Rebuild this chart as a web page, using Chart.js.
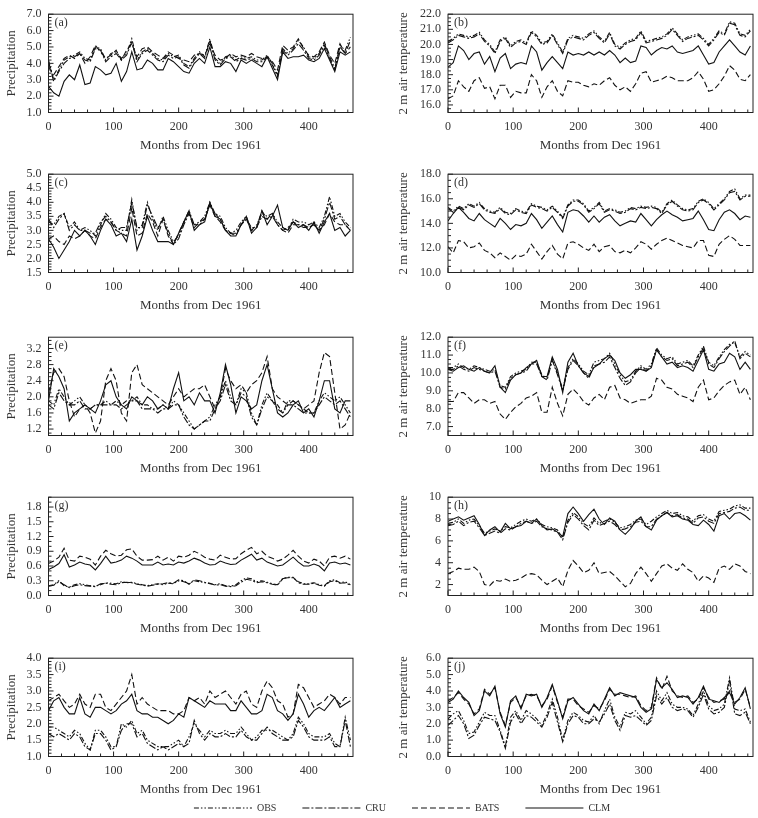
<!DOCTYPE html>
<html>
<head>
<meta charset="utf-8">
<script src="https://cdn.jsdelivr.net/npm/chart.js@4.4.0/dist/chart.umd.min.js"></script>
<style>
  body { margin: 0; background: #fff; }
  #wrap { position: relative; width: 758px; height: 818px; }
  #wrap canvas { position: absolute; }
</style>
</head>
<body>
<div id="wrap"></div>
<script>
// months since Dec 1961, sampled every 8 months
const months = [0,8,16,24,32,40,48,56,64,72,
  80,88,96,104,112,120,128,136,144,152,
  160,168,176,184,192,200,208,216,224,232,
  240,248,256,264,272,280,288,296,304,312,
  320,328,336,344,352,360,368,376,384,392,
  400,408,416,424,432,440,448,456,464];
const xTicks = [0, 100, 200, 300, 400];
const names = ['OBS', 'CRU', 'BATS', 'CLM'];

// (a) precipitation
const obsA = [4.2,3.0,3.6,4.2,4.4,4.5,4.7,4.3,4.2,5.0, 4.9,4.2,4.6,4.7,4.3,4.6,5.5,4.2,4.7,4.9, 4.6,4.3,4.2,4.6,4.4,4.5,4.0,3.8,4.3,4.7, 4.4,5.5,4.3,4.0,4.4,4.5,4.2,4.4,4.3,4.4, 4.2,4.2,4.5,4.0,3.3,4.9,4.6,4.9,5.4,5.0, 4.4,4.3,4.6,5.2,4.4,3.7,5.1,4.8,5.6];
const cruA = [4.1,2.9,3.5,4.0,4.3,4.4,4.6,4.2,4.1,4.9, 4.8,4.1,4.4,4.6,4.2,4.5,5.3,4.1,4.6,4.8, 4.5,4.2,4.1,4.5,4.3,4.4,3.9,3.7,4.2,4.6, 4.3,5.4,4.2,3.9,4.3,4.4,4.1,4.3,4.2,4.3, 4.1,4.1,4.4,3.9,3.2,4.8,4.5,4.8,5.2,4.8, 4.3,4.2,4.5,5.1,4.3,3.6,5.0,4.6,5.4];
const batsA = [3.8,3.3,3.8,4.3,4.5,4.3,4.6,4.0,4.4,5.1, 4.7,4.3,4.5,4.8,4.2,4.8,5.2,4.4,4.9,5.0, 4.7,4.5,4.3,4.7,4.5,4.3,4.2,4.1,4.5,4.6, 4.5,5.2,4.5,4.2,4.3,4.6,4.4,4.5,4.4,4.6, 4.4,4.3,4.4,4.1,3.6,5.1,4.8,5.0,5.5,4.9, 4.5,4.4,4.7,5.3,4.5,4.0,5.2,4.6,5.0];
const clmA = [2.6,2.2,2.0,2.9,3.3,3.0,3.9,2.7,2.8,3.8, 3.6,3.3,3.4,4.0,2.9,3.5,4.7,3.6,3.7,4.2, 4.0,3.6,3.6,4.3,4.1,3.8,3.5,3.4,4.0,4.3, 4.0,5.0,3.8,3.8,4.1,4.0,3.5,4.2,4.0,4.2, 4.0,3.8,4.4,3.7,3.0,4.7,4.3,4.4,4.4,4.5, 4.2,4.1,4.3,4.9,4.2,3.5,4.7,4.5,4.7];

// (b) 2 m air temperature
const obsB = [20.2,20.4,20.7,20.6,20.5,20.6,20.8,20.3,20.0,19.5, 20.3,20.5,19.9,20.2,20.3,20.1,20.9,20.6,20.1,20.2, 20.7,20.1,19.5,20.4,20.6,20.5,20.4,20.7,20.9,20.5, 20.2,20.8,20.0,19.8,20.1,20.3,20.4,20.9,20.2,20.3, 20.4,20.5,20.7,21.1,20.7,20.3,20.5,20.6,20.7,20.4, 20.0,20.4,20.9,20.7,21.5,21.4,20.7,20.6,21.0];
const cruB = [20.1,20.3,20.6,20.5,20.4,20.5,20.7,20.2,19.9,19.4, 20.2,20.4,19.8,20.1,20.2,20.0,20.8,20.5,20.0,20.1, 20.6,20.0,19.4,20.3,20.5,20.4,20.3,20.6,20.8,20.4, 20.1,20.7,19.9,19.7,20.0,20.2,20.3,20.8,20.1,20.2, 20.3,20.4,20.6,21.0,20.6,20.2,20.4,20.5,20.6,20.3, 19.9,20.3,20.8,20.6,21.4,21.3,20.6,20.5,20.9];
const batsB = [16.4,16.6,17.6,17.2,16.9,17.6,17.8,17.1,17.2,16.4, 17.3,17.3,16.5,16.9,16.8,16.8,18.0,17.6,16.5,17.2, 17.6,16.9,16.6,17.6,17.5,17.5,17.3,17.2,17.4,17.3, 17.6,17.8,17.3,17.0,17.2,16.9,17.4,18.1,18.2,17.5, 17.6,17.7,17.9,17.8,17.6,17.6,17.6,17.8,18.2,17.7, 16.9,17.0,17.4,17.9,18.6,18.3,17.7,17.6,18.0];
const clmB = [18.5,18.8,19.9,19.6,19.0,19.4,19.5,18.7,19.2,18.2, 19.1,19.4,18.4,18.7,18.8,18.7,19.9,19.5,18.3,18.8, 19.2,18.8,18.4,19.5,19.3,19.4,19.3,19.5,19.3,19.5, 19.3,19.6,19.3,18.8,19.1,18.8,18.9,19.9,19.8,19.3, 19.6,19.8,19.7,19.9,19.5,19.4,19.5,19.6,19.9,19.3, 18.7,18.8,19.5,19.9,20.3,19.9,19.5,19.3,19.9];

// (c) precipitation
const obsC = [3.3,3.2,3.5,3.6,3.1,3.3,3.0,3.1,3.0,2.8, 3.2,3.6,3.4,3.1,3.0,3.0,4.1,3.0,3.2,4.0, 3.4,3.0,3.5,3.0,2.6,2.8,3.3,3.7,3.2,3.3, 3.5,4.0,3.6,3.5,3.1,2.9,3.0,3.3,3.5,3.0, 3.2,3.6,3.5,3.6,3.3,3.1,3.0,3.4,3.3,3.3, 3.2,3.3,3.1,3.5,4.2,3.5,3.6,3.3,3.1];
const cruC = [3.4,3.1,3.4,3.6,3.0,3.2,3.0,3.0,2.9,2.9, 3.3,3.5,3.3,3.0,3.1,3.1,4.0,3.1,3.1,3.9, 3.5,3.1,3.4,2.9,2.5,2.7,3.2,3.6,3.2,3.2, 3.4,3.9,3.6,3.4,3.0,2.9,2.9,3.2,3.4,3.1, 3.1,3.5,3.4,3.5,3.2,3.0,3.1,3.3,3.2,3.2, 3.1,3.2,3.0,3.4,4.0,3.4,3.5,3.2,3.0];
const batsC = [2.7,2.8,2.6,2.5,2.8,2.7,2.8,3.0,2.8,2.7, 3.1,3.4,3.3,3.0,2.9,2.8,3.8,2.8,2.9,3.6, 3.3,2.8,3.4,2.8,2.5,2.9,3.3,3.6,3.1,3.3, 3.4,3.9,3.5,3.3,3.0,2.9,2.8,3.2,3.4,3.0, 3.1,3.7,3.4,3.6,3.2,3.0,2.9,3.2,3.2,3.1, 3.1,3.2,3.0,3.2,3.6,3.3,3.2,3.2,3.0];
const clmC = [2.7,2.4,2.0,2.3,2.6,3.0,2.8,3.0,2.8,2.5, 3.0,3.4,3.2,2.8,2.9,2.6,3.4,2.3,2.8,3.5, 3.0,2.6,2.6,2.6,2.5,2.9,3.3,3.7,3.0,3.2, 3.3,4.0,3.5,3.4,3.0,2.8,2.8,3.2,3.5,2.9, 3.1,3.7,3.2,3.5,3.9,3.1,3.0,3.3,3.1,3.2, 3.0,3.3,2.9,3.3,3.6,3.0,3.1,2.8,3.0];

// (d) 2 m air temperature
const obsD = [15.3,15.0,15.4,15.2,15.6,15.4,15.7,15.2,15.0,14.9, 15.3,14.9,14.8,15.2,15.0,14.9,15.6,15.4,15.3,15.1, 15.4,15.0,14.5,15.5,15.9,15.9,15.6,15.0,15.3,15.7, 15.0,15.2,15.1,14.9,15.0,15.3,15.2,15.4,15.3,15.4, 15.3,14.9,15.6,15.9,15.5,15.2,15.1,15.2,15.8,16.0, 15.7,15.2,15.6,16.0,16.6,16.8,16.0,16.3,16.3];
const cruD = [15.2,14.9,15.3,15.1,15.5,15.3,15.6,15.1,14.9,14.8, 15.2,14.8,14.7,15.1,14.9,14.8,15.5,15.3,15.2,15.0, 15.3,14.9,14.4,15.4,15.8,15.8,15.5,14.9,15.2,15.6, 14.9,15.1,15.0,14.8,14.9,15.2,15.1,15.3,15.2,15.3, 15.2,14.8,15.5,15.8,15.4,15.1,15.0,15.1,15.7,15.9, 15.6,15.1,15.5,15.9,16.5,16.6,15.9,16.2,16.2];
const batsD = [12.1,11.6,12.6,12.5,12.0,12.1,12.4,11.8,11.6,11.2, 11.6,11.3,11.0,11.4,11.3,11.5,12.3,11.7,11.1,11.7, 12.2,11.5,11.1,12.4,12.5,12.3,12.0,11.8,12.3,11.7, 12.1,12.2,11.7,11.6,11.8,11.6,12.0,12.5,12.3,11.9, 12.3,12.6,12.8,12.6,12.4,12.2,12.1,12.0,12.6,12.6, 11.4,11.3,12.3,12.7,13.0,12.7,12.2,12.2,12.2];
const clmD = [14.2,14.8,15.3,14.9,14.4,14.2,14.8,14.3,14.0,13.7, 14.4,14.0,13.5,13.9,13.8,14.0,14.8,14.3,13.6,14.1, 14.6,13.9,13.3,14.9,15.1,15.0,14.6,14.1,14.6,14.1, 14.5,14.7,14.2,13.8,14.0,14.2,14.1,14.8,14.3,13.8, 14.3,14.7,15.0,14.7,14.5,14.2,14.3,14.4,15.0,14.3, 13.5,13.4,14.3,14.9,15.1,14.8,14.3,14.6,14.5];

// (e) precipitation
const obsE = [1.9,1.8,2.2,2.0,1.8,1.9,2.0,1.8,1.7,1.8, 1.8,1.9,1.8,1.9,1.8,1.9,1.9,2.0,1.8,1.8, 1.7,1.7,1.8,1.7,1.9,1.8,1.6,1.4,1.2,1.3, 1.4,1.5,1.8,2.0,2.4,2.0,1.8,2.2,2.1,1.6, 1.3,1.8,2.1,1.9,1.8,1.6,1.9,1.9,1.8,1.7, 1.6,1.6,1.9,2.1,2.0,1.9,2.0,1.8,1.6];
const cruE = [1.8,1.7,2.1,1.9,1.8,1.8,1.9,1.7,1.7,1.8, 1.8,1.8,1.8,1.8,1.7,1.8,1.9,1.9,1.7,1.7, 1.7,1.6,1.7,1.7,1.8,1.8,1.5,1.3,1.2,1.3, 1.4,1.4,1.7,1.9,2.3,1.9,1.8,2.1,2.0,1.5, 1.3,1.7,2.0,1.9,1.7,1.6,1.8,1.8,1.7,1.6, 1.6,1.6,1.8,2.0,1.9,1.8,1.9,1.7,1.5];
const batsE = [2.1,2.6,2.7,2.5,1.9,1.5,1.7,1.8,1.6,1.1, 1.4,2.4,2.7,2.4,1.6,1.4,2.6,2.8,2.3,2.2, 2.1,2.0,1.9,1.8,2.0,2.2,2.0,2.1,2.2,2.2, 2.3,2.0,1.7,2.0,2.7,2.4,2.2,2.3,2.1,2.3, 2.4,2.6,3.0,2.2,2.0,1.9,1.8,1.9,1.8,1.7, 1.8,1.9,2.6,3.1,3.0,2.1,1.2,1.3,1.6];
const clmE = [1.9,2.7,2.5,2.2,1.4,1.6,1.7,1.8,1.7,1.6, 1.9,2.3,2.4,2.0,1.8,1.7,2.0,1.9,1.8,2.0, 1.9,1.7,1.8,1.7,2.2,2.6,1.9,2.0,1.8,2.1, 1.9,1.9,1.6,2.1,2.8,2.3,1.6,2.0,1.9,1.7, 1.8,2.4,2.8,2.2,1.6,1.5,1.6,1.8,1.9,1.6, 1.7,1.5,1.9,2.4,2.4,1.7,1.6,1.9,1.9];

// (f) 2 m air temperature
const obsF = [10.3,10.3,10.5,10.3,10.2,10.4,10.3,10.2,10.1,10.2, 9.3,9.2,9.8,10.0,10.1,10.2,10.6,10.6,9.9,9.7, 10.8,10.0,9.1,10.3,10.8,10.5,10.1,9.9,10.6,10.7, 10.8,11.1,10.5,9.9,9.5,9.6,10.1,10.4,10.2,10.5, 11.4,11.0,10.8,10.9,10.5,10.6,10.7,10.4,11.0,11.5, 10.6,10.4,10.9,11.3,11.6,11.7,10.9,11.2,11.0];
const cruF = [10.2,10.2,10.4,10.2,10.1,10.3,10.2,10.1,10.0,10.1, 9.2,9.1,9.7,9.9,10.0,10.1,10.5,10.5,9.8,9.6, 10.7,9.9,9.0,10.2,10.7,10.4,10.0,9.7,10.4,10.5, 10.6,10.9,10.3,9.7,9.3,9.5,10.0,10.3,10.1,10.4, 11.3,10.9,10.7,10.8,10.4,10.5,10.6,10.3,10.9,11.4, 10.5,10.3,10.8,11.2,11.5,11.8,10.8,11.1,10.9];
const batsF = [8.4,8.4,8.9,8.9,8.6,8.3,8.5,8.5,8.3,8.4, 7.7,7.4,7.8,8.1,8.3,8.6,8.7,8.9,7.8,7.8, 9.2,8.3,7.6,8.8,9.1,8.8,8.4,8.2,8.6,8.8, 8.5,9.2,9.3,8.6,8.5,8.3,8.4,8.5,8.5,8.7, 9.7,9.6,9.2,9.1,8.8,8.7,8.6,8.4,9.2,9.6, 8.5,8.6,9.0,9.3,9.5,9.6,8.8,9.2,8.5];
const clmF = [10.2,10.1,10.3,10.4,10.2,10.1,10.3,10.1,10.0,10.4, 9.2,8.9,9.6,9.9,10.0,10.3,10.5,10.7,9.8,9.8, 10.9,10.2,8.9,10.6,11.1,10.4,10.0,9.8,10.3,10.5, 10.8,11.0,10.7,10.0,9.7,9.9,10.2,10.2,10.1,10.3, 11.3,10.9,10.5,10.6,10.3,10.4,10.3,10.1,10.7,11.3, 10.2,10.1,10.5,10.6,11.1,10.9,10.2,10.6,10.2];

// (g) precipitation
const obsG = [0.20,0.22,0.30,0.20,0.17,0.22,0.24,0.22,0.20,0.19, 0.22,0.26,0.25,0.24,0.28,0.26,0.27,0.24,0.22,0.20, 0.22,0.24,0.22,0.25,0.24,0.30,0.28,0.24,0.30,0.28, 0.26,0.24,0.22,0.24,0.20,0.19,0.22,0.30,0.36,0.34, 0.28,0.30,0.27,0.24,0.22,0.35,0.36,0.36,0.28,0.24, 0.24,0.26,0.22,0.20,0.30,0.32,0.26,0.28,0.22];
const cruG = [0.19,0.21,0.28,0.22,0.16,0.20,0.22,0.20,0.19,0.18, 0.24,0.25,0.23,0.22,0.26,0.27,0.26,0.23,0.21,0.19, 0.21,0.23,0.24,0.26,0.25,0.32,0.30,0.23,0.32,0.30, 0.27,0.25,0.21,0.22,0.19,0.18,0.20,0.27,0.33,0.31, 0.26,0.28,0.26,0.23,0.21,0.34,0.37,0.37,0.26,0.23, 0.23,0.25,0.21,0.19,0.28,0.30,0.25,0.26,0.21];
const batsG = [0.65,0.70,0.78,0.96,0.72,0.70,0.80,0.78,0.74,0.62, 0.80,0.92,0.85,0.80,0.82,0.93,0.95,0.80,0.72,0.72, 0.73,0.80,0.72,0.78,0.70,0.80,0.78,0.82,0.90,0.85, 0.78,0.74,0.72,0.82,0.78,0.74,0.75,0.85,0.92,0.98, 0.85,0.90,0.80,0.76,0.70,0.74,0.82,0.92,0.80,0.70, 0.66,0.74,0.70,0.60,0.78,0.80,0.76,0.80,0.74];
const clmG = [0.53,0.58,0.65,0.83,0.58,0.62,0.68,0.64,0.62,0.52, 0.65,0.80,0.66,0.68,0.72,0.80,0.76,0.70,0.62,0.62, 0.62,0.68,0.62,0.64,0.62,0.68,0.66,0.70,0.76,0.72, 0.66,0.62,0.63,0.70,0.66,0.63,0.64,0.72,0.78,0.84, 0.72,0.76,0.68,0.64,0.60,0.62,0.70,0.78,0.68,0.60, 0.60,0.64,0.60,0.50,0.66,0.68,0.64,0.66,0.62];

// (h) 2 m air temperature
const obsH = [7.6,7.7,8.0,7.6,7.9,8.0,7.4,6.7,6.9,7.1, 6.9,7.3,7.2,7.5,7.8,8.0,7.8,8.0,7.5,7.3, 7.2,7.0,6.3,7.9,8.6,8.2,7.6,7.3,8.1,7.6, 7.8,8.0,7.7,7.2,7.3,7.5,7.9,8.0,7.5,7.8, 8.2,8.5,8.8,8.5,8.6,8.3,8.2,7.8,8.3,8.4, 8.0,7.8,8.7,8.8,8.9,9.2,9.3,9.0,9.0];
const cruH = [7.4,7.5,7.8,7.4,7.7,7.8,7.2,6.5,6.7,6.9, 6.7,7.1,7.0,7.3,7.6,7.8,7.6,7.8,7.3,7.1, 7.0,6.8,6.1,7.7,8.4,8.0,7.4,7.0,7.9,7.4, 7.6,7.8,7.5,7.0,7.1,7.3,7.7,7.8,7.3,7.3, 8.0,8.3,8.6,8.3,8.4,8.1,8.0,7.6,8.1,8.2, 7.8,7.6,8.5,8.6,8.7,9.0,9.1,8.8,8.8];
const batsH = [3.0,3.2,3.5,3.4,3.4,3.6,3.2,2.0,1.9,2.4, 2.3,2.5,2.3,2.4,2.6,2.9,3.0,2.9,2.4,2.0, 2.3,2.6,1.8,3.3,4.2,3.7,3.1,3.3,4.0,3.0, 3.1,3.2,2.8,2.3,1.8,2.1,3.0,3.6,3.0,2.3, 3.0,3.7,3.9,3.5,3.3,3.9,3.4,3.1,2.3,2.8, 2.6,2.2,3.5,3.7,3.4,3.9,3.7,3.2,3.0];
const clmH = [7.8,8.0,8.2,7.9,8.1,8.3,7.5,6.5,7.0,7.3, 6.8,7.6,7.1,7.3,7.4,7.8,7.6,8.0,7.4,7.0, 7.1,6.8,6.4,8.5,9.1,8.5,7.8,8.4,8.9,8.0, 7.5,8.1,7.8,7.0,6.6,7.1,7.8,8.2,7.3,7.0, 7.9,8.3,8.6,8.2,8.3,8.0,7.9,7.5,7.4,7.9, 7.5,6.9,8.3,8.5,8.0,8.5,8.6,8.3,7.9];

// (i) precipitation
const obsI = [1.9,1.9,1.8,1.7,1.6,1.8,1.7,1.4,1.2,1.8, 1.8,1.6,1.3,1.3,2.0,1.9,2.1,1.7,1.8,1.5, 1.4,1.3,1.3,1.3,1.4,1.5,1.3,1.6,2.0,1.8, 1.6,1.8,1.7,1.7,1.8,1.7,1.7,1.9,1.7,1.5, 1.6,1.8,1.8,1.8,1.7,1.6,1.5,1.7,2.2,2.0, 1.7,1.6,1.6,1.6,1.7,1.4,1.3,2.2,1.5];
const cruI = [1.7,1.6,1.7,1.6,1.5,1.7,1.6,1.3,1.2,1.7, 1.7,1.5,1.2,1.3,1.8,2.0,2.0,1.6,1.7,1.4, 1.3,1.2,1.3,1.2,1.3,1.4,1.3,1.4,2.1,1.7, 1.5,1.7,1.6,1.6,1.7,1.6,1.6,1.8,1.6,1.5, 1.5,1.7,1.9,1.7,1.6,1.5,1.5,1.6,2.1,1.9, 1.6,1.5,1.5,1.5,1.6,1.3,1.3,2.1,1.3];
const batsI = [2.7,2.8,2.9,2.7,2.5,2.6,2.9,2.6,2.5,2.9, 2.9,2.5,2.4,2.6,2.8,3.0,3.5,2.6,2.8,2.6, 2.5,2.4,2.4,2.4,2.3,2.3,2.4,2.8,2.7,2.8, 2.6,3.0,2.8,2.9,3.0,2.8,2.6,2.9,3.0,2.6, 2.5,3.0,3.3,3.1,2.7,2.6,2.2,2.3,3.2,3.1, 2.8,2.5,2.6,2.7,2.9,2.8,2.6,2.8,2.8];
const clmI = [2.4,2.7,2.8,2.5,2.3,2.3,2.8,2.3,2.2,2.5, 2.5,2.4,2.3,2.4,2.6,2.7,2.9,2.4,2.3,2.3, 2.2,2.2,2.1,2.0,2.1,2.3,2.2,2.8,2.7,2.6, 2.5,2.7,2.6,2.6,2.6,2.4,2.4,2.7,2.5,2.3, 2.3,2.4,2.9,2.8,2.4,2.3,2.1,2.3,2.9,2.6, 2.2,2.4,2.5,2.4,2.6,2.8,2.5,2.6,2.7];

// (j) 2 m air temperature
const obsJ = [2.3,2.6,2.8,2.2,1.4,1.5,2.1,2.7,2.5,2.5, 1.6,0.6,2.4,2.8,2.2,2.8,2.6,2.3,1.9,2.6, 3.5,2.4,1.0,2.2,2.7,2.5,2.2,2.1,2.5,2.0, 2.8,3.5,2.4,1.8,2.7,2.6,2.8,2.4,2.0,2.4, 4.0,3.4,3.9,3.2,3.0,3.0,2.9,2.5,3.2,4.0, 3.1,2.8,2.9,3.2,4.8,2.9,2.8,2.9,2.1];
const cruJ = [1.9,2.2,2.5,2.0,1.1,1.3,1.9,2.4,2.3,2.2, 1.5,0.5,2.1,2.6,2.0,2.5,2.4,2.1,1.8,2.4, 3.3,2.1,0.9,2.0,2.5,2.4,2.0,2.0,2.3,2.1, 2.6,3.2,2.2,1.6,2.5,2.4,2.5,2.2,1.9,2.2, 3.7,3.2,3.6,3.0,2.8,2.9,2.8,2.4,3.0,3.8, 2.9,2.6,2.7,3.0,4.6,2.6,2.5,2.7,2.0];
const batsJ = [3.4,3.6,3.9,3.5,3.2,2.6,2.9,4.1,3.8,4.2, 2.7,1.9,3.3,3.6,3.0,3.7,3.8,3.7,3.1,3.5, 4.3,3.3,2.4,3.5,3.5,3.1,2.9,2.7,3.1,2.9, 3.4,4.1,3.8,3.8,3.7,3.6,3.7,3.1,2.8,3.0, 4.8,4.1,4.9,4.0,3.7,3.6,3.7,3.3,3.5,4.2, 3.6,3.3,3.4,3.5,4.0,3.3,3.5,4.1,3.0];
const clmJ = [3.3,3.5,4.0,3.6,3.3,2.5,2.8,4.0,3.7,4.3, 2.6,1.8,3.4,3.7,2.9,3.8,3.7,3.8,3.0,3.6, 4.4,3.4,2.3,3.4,3.6,3.2,2.8,2.6,3.2,2.8, 3.5,4.2,3.7,3.9,3.8,3.7,3.6,3.0,2.7,2.9, 4.7,4.2,4.5,4.1,3.6,3.7,3.6,3.2,3.6,4.3, 3.5,3.4,3.3,3.6,3.9,3.2,3.6,4.2,2.9];

// y tick labels per panel
const ticksA = [1, 2, 3, 4, 5, 6, 7];
const ticksB = [16, 17, 18, 19, 20, 21, 22];
const ticksC = [1.5, 2, 2.5, 3, 3.5, 4, 4.5, 5];
const ticksD = [10, 12, 14, 16, 18];
const ticksE = [1.2, 1.6, 2.0, 2.4, 2.8, 3.2];
const ticksF = [7, 8, 9, 10, 11, 12];
const ticksG = [0, 0.3, 0.6, 0.9, 1.2, 1.5, 1.8];
const ticksH = [2, 4, 6, 8, 10];
const ticksI = [1, 1.5, 2, 2.5, 3, 3.5, 4];
const ticksJ = [0, 1, 2, 3, 4, 5, 6];

const PRE = 'Precipitation';
const TAS = '2 m air temperature';
const panels = [
  { id: 'a', col: 0, row: 0, title: PRE, min: 1, max: 7, ticks: ticksA, dec: 1, minor: 0.2, series: [obsA, cruA, batsA, clmA] },
  { id: 'b', col: 1, row: 0, title: TAS, min: 15.5, max: 22, ticks: ticksB, dec: 1, minor: 0.25, series: [obsB, cruB, batsB, clmB] },
  { id: 'c', col: 0, row: 1, title: PRE, min: 1.5, max: 5, ticks: ticksC, dec: 1, minor: 0.1, series: [obsC, cruC, batsC, clmC] },
  { id: 'd', col: 1, row: 1, title: TAS, min: 10, max: 18, ticks: ticksD, dec: 1, minor: 0.5, series: [obsD, cruD, batsD, clmD] },
  { id: 'e', col: 0, row: 2, title: PRE, min: 1.04, max: 3.48, ticks: ticksE, dec: 1, minor: 0.1, series: [obsE, cruE, batsE, clmE] },
  { id: 'f', col: 1, row: 2, title: TAS, min: 6.5, max: 12, ticks: ticksF, dec: 1, minor: 0.25, series: [obsF, cruF, batsF, clmF] },
  { id: 'g', col: 0, row: 3, title: PRE, min: 0, max: 2.0, ticks: ticksG, dec: 1, minor: 0.1, series: [obsG, cruG, batsG, clmG] },
  { id: 'h', col: 1, row: 3, title: TAS, min: 1, max: 10, ticks: ticksH, dec: 0, minor: 0.5, series: [obsH, cruH, batsH, clmH] },
  { id: 'i', col: 0, row: 4, title: PRE, min: 1, max: 4, ticks: ticksI, dec: 1, minor: 0.1, series: [obsI, cruI, batsI, clmI] },
  { id: 'j', col: 1, row: 4, title: TAS, min: 0, max: 6, ticks: ticksJ, dec: 1, minor: 0.25, series: [obsJ, cruJ, batsJ, clmJ] }
];

const dashes = [[5, 2, 1.5, 2, 1.5, 2], [7, 2, 2, 2], [6, 3], []];
const serif = '"Liberation Serif", "DejaVu Serif", serif';
const textColor = '#333';
const lineColor = '#111';
const rowTop = [0, 160, 323, 483, 644];
const wrap = document.getElementById('wrap');

// box round the plot, inward ticks and the panel letter
function makeFrame(p) {
  return {
    id: 'frame',
    afterDraw(chart) {
      const { ctx, chartArea: a } = chart;
      const x = chart.scales.x;
      const y = chart.scales.y;
      ctx.save();
      ctx.strokeStyle = '#222';
      ctx.lineWidth = 1;
      ctx.strokeRect(a.left, a.top, a.right - a.left, a.bottom - a.top);
      ctx.beginPath();
      for (let m = 0; m <= x.max; m += 20) {
        const px = x.getPixelForValue(m);
        const len = m % 100 === 0 ? 5 : 3;
        ctx.moveTo(px, a.bottom);
        ctx.lineTo(px, a.bottom - len);
      }
      const k0 = Math.ceil(y.min / p.minor - 1e-6);
      const k1 = Math.floor(y.max / p.minor + 1e-6);
      for (let k = k0; k <= k1; k++) {
        const v = k * p.minor;
        const major = p.ticks.some((t) => Math.abs(t - v) < 1e-6);
        const py = y.getPixelForValue(v);
        ctx.moveTo(a.left, py);
        ctx.lineTo(a.left + (major ? 5 : 3), py);
      }
      ctx.stroke();
      ctx.fillStyle = textColor;
      ctx.font = '12px ' + serif;
      ctx.textBaseline = 'middle';
      ctx.fillText('(' + p.id + ')', a.left + 6, a.top + 9);
      ctx.restore();
    }
  };
}

panels.forEach((p) => {
  const c = document.createElement('canvas');
  const w = p.col === 0 ? 380 : 378;
  c.width = w;
  c.height = 160;
  c.style.left = (p.col === 0 ? 0 : 380) + 'px';
  c.style.top = rowTop[p.row] + 'px';
  wrap.appendChild(c);

  new Chart(c, {
    type: 'line',
    data: {
      datasets: p.series.map((vals, i) => ({
        label: names[i],
        data: months.map((m, k) => ({ x: m, y: vals[k] })),
        borderColor: lineColor,
        borderWidth: 1.1,
        borderDash: dashes[i],
        pointRadius: 0,
        fill: false,
        tension: 0
      }))
    },
    options: {
      responsive: false,
      animation: false,
      events: [],
      layout: { padding: { top: 11, left: 0, right: p.col === 0 ? 27 : 5, bottom: 0 } },
      plugins: { legend: { display: false }, tooltip: { enabled: false } },
      scales: {
        x: {
          type: 'linear',
          min: 0,
          max: 468,
          afterBuildTicks: (s) => { s.ticks = xTicks.map((v) => ({ value: v })); },
          afterFit: (s) => { s.height = 47.5; },
          grid: { display: false, drawTicks: false },
          border: { display: false },
          ticks: { padding: 7, autoSkip: false, maxRotation: 0, color: textColor, font: { family: serif, size: 12 } },
          title: { display: true, text: 'Months from Dec 1961', color: textColor, font: { family: serif, size: 13 }, padding: { top: 0, bottom: 7 } }
        },
        y: {
          min: p.min,
          max: p.max,
          afterBuildTicks: (s) => { s.ticks = p.ticks.map((v) => ({ value: v })); },
          afterFit: (s) => { s.width = p.col === 0 ? 48.5 : 68; },
          grid: { display: false, drawTicks: false },
          border: { display: false },
          ticks: { padding: 7, autoSkip: false, color: textColor, font: { family: serif, size: 12 }, callback: (v) => Number(v).toFixed(p.dec) },
          title: { display: true, text: p.title, color: textColor, font: { family: serif, size: 13 }, padding: { top: p.col === 0 ? 4 : 16, bottom: 0 } }
        }
      }
    },
    plugins: [makeFrame(p)]
  });
});

// shared legend along the bottom
const lc = document.createElement('canvas');
lc.width = 758;
lc.height = 40;
lc.style.left = '0px';
lc.style.top = '777px';
wrap.appendChild(lc);
new Chart(lc, {
  type: 'line',
  data: {
    datasets: names.map((n, i) => ({ label: n, data: [], borderColor: lineColor, borderWidth: 1.1, borderDash: dashes[i] }))
  },
  options: {
    responsive: false,
    animation: false,
    events: [],
    layout: { padding: { left: 46 } },
    scales: { x: { display: false }, y: { display: false } },
    plugins: {
      tooltip: { enabled: false },
      legend: {
        display: true,
        position: 'top',
        maxHeight: 100,
        labels: {
          usePointStyle: true,
          pointStyleWidth: 58,
          boxHeight: 10,
          padding: 26,
          color: textColor,
          font: { family: serif, size: 10 },
          generateLabels: (chart) => chart.data.datasets.map((d, i) => ({
            text: d.label,
            fillStyle: lineColor,
            strokeStyle: lineColor,
            lineWidth: 1.1,
            lineDash: d.borderDash,
            pointStyle: 'line',
            fontColor: textColor,
            hidden: false,
            datasetIndex: i
          }))
        }
      }
    }
  }
});
</script>
</body>
</html>
